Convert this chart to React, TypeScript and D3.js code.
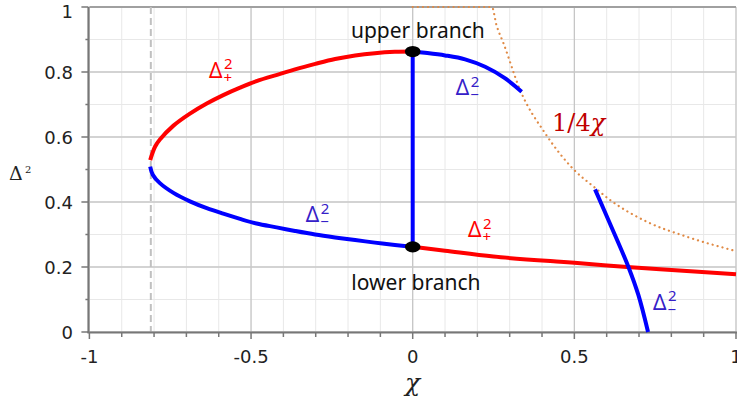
import * as d3 from 'd3';

// points: [chi, delta^2]
const upperPlusLeft: [number, number][] = [
  [-0.812, 0.529], [-0.797, 0.57], [-0.782, 0.592], [-0.74, 0.635], [-0.689, 0.672],
  [-0.637, 0.703], [-0.586, 0.729], [-0.534, 0.752], [-0.483, 0.772], [-0.41, 0.794],
  [-0.364, 0.808], [-0.301, 0.825], [-0.24, 0.84], [-0.178, 0.851], [-0.117, 0.858],
  [-0.055, 0.862], [0, 0.863],
];
const lowerMinusLeft: [number, number][] = [
  [-0.812, 0.509], [-0.804, 0.484], [-0.782, 0.458], [-0.74, 0.428], [-0.689, 0.402],
  [-0.637, 0.381], [-0.586, 0.364], [-0.534, 0.348], [-0.483, 0.334], [-0.421, 0.322],
  [-0.364, 0.311], [-0.302, 0.3], [-0.24, 0.291], [-0.178, 0.283], [-0.117, 0.275],
  [-0.055, 0.268], [0, 0.262],
];
const upperMinusRight: [number, number][] = [
  [0, 0.863], [0.038, 0.859], [0.1, 0.851], [0.162, 0.839], [0.224, 0.816],
  [0.285, 0.781], [0.337, 0.739],
];
const lowerPlusRight: [number, number][] = [
  [0, 0.262], [0.1, 0.25], [0.25, 0.232], [0.456, 0.216], [0.5, 0.213],
  [0.663, 0.2], [0.765, 0.193], [1, 0.178],
];
const steepMinus: [number, number][] = [
  [0.564, 0.439], [0.61, 0.334], [0.667, 0.201], [0.698, 0.114], [0.728, 0],
];
const branchJump: [number, number][] = [[0, 0.262], [0, 0.863]];
const quarterChi: [number, number][] = [
  [0, 1], [0.245, 1], [0.259, 0.945], [0.281, 0.888], [0.332, 0.745], [0.41, 0.611],
  [0.5, 0.498], [0.56, 0.447], [0.611, 0.406], [0.725, 0.339], [0.848, 0.293], [1, 0.249],
];
const branchPoints: [number, number][] = [[0, 0.863], [0, 0.262]];
const turningChi = -0.81;

const xTicks = [-1, -0.5, 0, 0.5, 1];
const xTickLabels = ['-1', '-0.5', '0', '0.5', '1'];
const yTicks = [0, 0.2, 0.4, 0.6, 0.8, 1];
const yTickLabels = ['0', '0.2', '0.4', '0.6', '0.8', '1'];

// Δ² labels: [chi, delta^2, sign]
const deltaLabels: [number, number, string][] = [
  [-0.63, 0.782, '+'],
  [0.133, 0.729, '−'],
  [-0.331, 0.338, '−'],
  [0.171, 0.292, '+'],
  [0.743, 0.068, '−'],
];

const RED = '#ff0000';
const BLUE = '#0000ff';
const LABEL_BLUE = '#3520c8';

export default function App() {
  const width = 737;
  const height = 407;
  const x = d3.scaleLinear().domain([-1, 1]).range([89.4, 736]);
  const y = d3.scaleLinear().domain([0, 1]).range([332, 7]);

  const line = d3.line<[number, number]>()
    .x(d => x(d[0]))
    .y(d => y(d[1]))
    .curve(d3.curveCatmullRom.alpha(0.5));
  const dotted = d3.line<[number, number]>()
    .x(d => x(d[0]))
    .y(d => y(d[1]))
    .curve(d3.curveMonotoneX);
  const straight = d3.line<[number, number]>().x(d => x(d[0])).y(d => y(d[1]));

  const minorX = d3.range(-10, 11).map(i => i / 10);
  const minorY = d3.range(0, 11).map(i => i / 10);

  const sans = 'DejaVu Sans, sans-serif';

  return (
    <svg width={width} height={height} style={{ position: 'absolute', left: 0, top: 0, background: '#fff' }}>
      {/* grid */}
      {minorX.map(v => (
        <line key={'mx' + v} x1={x(v)} x2={x(v)} y1={y(0)} y2={y(1)} stroke="#e8e8e8" strokeWidth={1} />
      ))}
      {minorY.map(v => (
        <line key={'my' + v} x1={x(-1)} x2={x(1)} y1={y(v)} y2={y(v)} stroke="#e8e8e8" strokeWidth={1} />
      ))}
      {xTicks.map(v => (
        <line key={'gx' + v} x1={x(v)} x2={x(v)} y1={y(0)} y2={y(1)} stroke="#c4c4c4" strokeWidth={1.2} />
      ))}
      {yTicks.map(v => (
        <line key={'gy' + v} x1={x(-1)} x2={x(1)} y1={y(v)} y2={y(v)}
          stroke={v === 1 ? '#a0a0a0' : '#c8c8c8'} strokeWidth={v === 1 ? 2 : 1.4} />
      ))}

      {/* turning point */}
      <line x1={x(turningChi)} x2={x(turningChi)} y1={y(1)} y2={y(0)}
        stroke="#c0c0c0" strokeWidth={2} strokeDasharray="7 4" />

      {/* axes */}
      <line x1={x(-1) - 1} x2={x(-1) - 1} y1={y(1)} y2={y(0) + 1} stroke="#777" strokeWidth={2} />
      <line x1={x(-1) - 2} x2={width} y1={y(0) + 0.5} y2={y(0) + 0.5} stroke="#777" strokeWidth={2} />
      {minorY.map(v => (
        <line key={'ty' + v} x1={x(-1) - (yTicks.some(t => Math.abs(t - v) < 1e-9) ? 8 : 4)} x2={x(-1) - 1}
          y1={y(v)} y2={y(v)} stroke="#777" strokeWidth={1.5} />
      ))}
      {minorX.map(v => (
        <line key={'tx' + v} x1={x(v)} x2={x(v)} y1={y(0) + 1}
          y2={y(0) + (xTicks.some(t => Math.abs(t - v) < 1e-9) ? 7 : 5)} stroke="#777" strokeWidth={1.5} />
      ))}
      {yTicks.map((v, i) => (
        <text key={'ly' + v} x={73} y={Math.max(y(v), 11) + 7} textAnchor="end"
          fontFamily={sans} fontSize={18} fill="#222">{yTickLabels[i]}</text>
      ))}
      {xTicks.map((v, i) => (
        <text key={'lx' + v} x={x(v)} y={363} textAnchor="middle"
          fontFamily={sans} fontSize={18} fill="#222">{xTickLabels[i]}</text>
      ))}
      <text x={9} y={180} fontFamily="DejaVu Serif, serif" fontSize={19} fill="#222">Δ</text>
      <text x={25} y={173} fontFamily="DejaVu Serif, serif" fontSize={10} fill="#222">2</text>
      <text x={x(0)} y={391} textAnchor="middle" fontFamily="DejaVu Serif, serif" fontStyle="italic"
        fontSize={25} fill="#222">χ</text>

      {/* curves */}
      <path d={dotted(quarterChi) || ''} fill="none" stroke="#e08a45" strokeWidth={2.2}
        strokeDasharray="0.1 5" strokeLinecap="round" />
      <path d={line(upperPlusLeft) || ''} fill="none" stroke={RED} strokeWidth={4} />
      <path d={line(lowerPlusRight) || ''} fill="none" stroke={RED} strokeWidth={4} />
      <path d={line(lowerMinusLeft) || ''} fill="none" stroke={BLUE} strokeWidth={4} />
      <path d={line(upperMinusRight) || ''} fill="none" stroke={BLUE} strokeWidth={4} />
      <path d={line(steepMinus) || ''} fill="none" stroke={BLUE} strokeWidth={4} />
      <path d={straight(branchJump) || ''} fill="none" stroke={BLUE} strokeWidth={4} />
      {branchPoints.map((p, i) => (
        <ellipse key={'bp' + i} cx={x(p[0])} cy={y(p[1])} rx={7.8} ry={5.6} fill="#000" />
      ))}

      {/* annotations */}
      {deltaLabels.map(([c, d, s], i) => {
        const col = s === '+' ? RED : LABEL_BLUE;
        const lx = x(c);
        const ly = y(d);
        return (
          <g key={'dl' + i} fill={col} fontFamily="Noto Sans, sans-serif">
            <text x={lx} y={ly} fontSize={21}>Δ</text>
            <text x={lx + 15} y={ly - 8.5} fontSize={15}>2</text>
            <text x={lx + 14.5} y={ly + 5} fontSize={15}>{s}</text>
          </g>
        );
      })}
      <text x={x(0.016)} y={y(0.905)} textAnchor="middle" fontFamily="Noto Sans, sans-serif" fontSize={21} fill="#111">upper branch</text>
      <text x={x(0.01)} y={y(0.129)} textAnchor="middle" fontFamily="Noto Sans, sans-serif" fontSize={21} fill="#111">lower branch</text>
      <text x={x(0.431)} y={y(0.62)} fontFamily="DejaVu Serif, serif" fontSize={24} fill="#c00000">
        1/4<tspan fontStyle="italic">χ</tspan>
      </text>
    </svg>
  );
}
